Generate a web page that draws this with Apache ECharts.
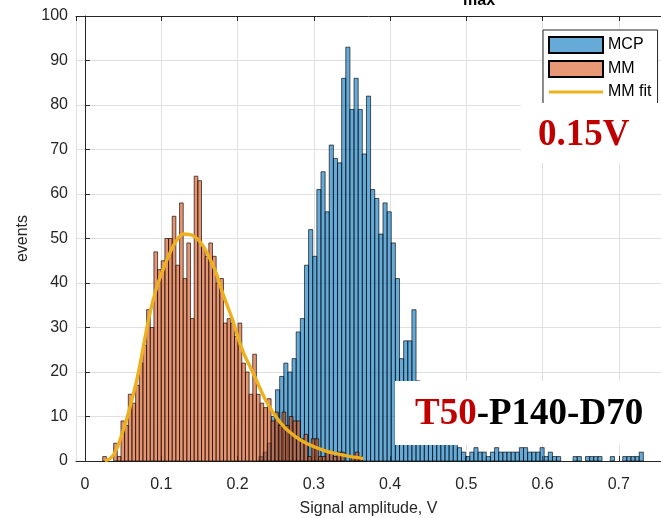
<!DOCTYPE html>
<html lang="en" style="height: 100%">

<head>
  <meta charset="utf-8">
</head>

<body style="height: 100%; margin: 0; background: #fff">
  <div id="container" style="width: 661px; height: 518px"></div>

  <script type="text/javascript" src="https://cdn.jsdelivr.net/npm/echarts@6/dist/echarts.min.js"></script>

  <script type="text/javascript">
    // histogram bins: first left edge, bin width, counts per bin
    var mcpFirstEdge = 0.2282;
    var mcpBinWidth = 0.00542;
    var mcpCounts = [1, 2, 4,
      10, 16, 19, 22, 20, 23, 29, 32, 44, 52, 46, 61, 65, 56, 71, 68, 67,
      86, 93, 79, 86, 79, 69, 82, 61, 59, 51, 58, 56, 49, 41, 23, 27, 27, 34,
      18, 14, 12, 9, 8, 7, 5, 6, 4, 4,
      3, 2, 1, 2, 3, 2, 2, 1, 2, 3, 2, 2, 2, 2, 2, 3, 3, 2, 2, 2,
      3, 1, 2, 1, 1, 0, 0, 0, 1, 1, 0, 1, 1, 1, 1, 0, 0, 1, 0, 0,
      1, 1, 1, 1, 2];

    var mmFirstEdge = 0.0232;
    var mmBinWidth = 0.0048;
    var mmCounts = [1, 0, 0, 4, 1, 9, 8, 15, 13, 17,
      22, 26, 34, 30, 47, 43, 45, 50, 50, 55,
      44, 58, 41, 49, 32, 64, 63, 48, 46, 49,
      46, 40, 41, 31, 32, 31, 28, 31, 22, 20,
      15, 24, 15, 13, 12, 14, 9, 11, 8, 11,
      8, 10, 9, 9, 5, 6, 1, 5, 5, 1,
      1, 2, 2, 1, 2, 2, 0, 0, 1, 2, 1];

    // MM fit curve
    var fitX = [0.026, 0.034, 0.041, 0.048, 0.057, 0.070, 0.083, 0.094, 0.107, 0.118,
      0.129, 0.142, 0.155, 0.171, 0.181, 0.193, 0.203, 0.210, 0.217, 0.223,
      0.236, 0.249, 0.262, 0.276, 0.289, 0.302, 0.315, 0.328, 0.345, 0.365];
    var fitY = [0, 0.7, 2.5, 5.8, 10.8, 19.8, 31.5, 39, 45, 49,
      51, 50.6, 48.3, 42.7, 37.5, 32, 26.5, 23.5, 21, 18.8,
      14, 10.3, 7.5, 5.5, 4.1, 3.1, 2.3, 1.7, 1.1, 0.6];

    // visible x range (the figure is cropped on the right)
    var xMin = -0.0118;
    var xMax = 0.7554;

    function binData(firstEdge, width, counts) {
      var out = [];
      counts.forEach(function (c, i) {
        var left = firstEdge + i * width;
        out.push([left, left + width, c]);
      });
      return out;
    }

    function histRender(fill) {
      return function (params, api) {
        var v = api.value(2);
        if (!v) return null;
        var p0 = api.coord([api.value(0), v]);
        var p1 = api.coord([api.value(1), 0]);
        return {
          type: 'rect',
          shape: { x: p0[0], y: p0[1], width: p1[0] - p0[0], height: p1[1] - p0[1] },
          style: { fill: fill, stroke: 'rgba(0,0,0,0.85)', lineWidth: 0.75 }
        };
      };
    }

    var dom = document.getElementById('container');
    var myChart = echarts.init(dom, null, { renderer: 'canvas' });
    var axisColor = '#262626';
    var font = '"Liberation Sans", Arial, sans-serif';
    var serif = '"Liberation Serif", "Times New Roman", serif';

    var option = {
      animation: false,
      backgroundColor: '#fff',
      textStyle: { fontFamily: font },
      grid: { left: 76, top: 16, right: 0, bottom: 57, outerBoundsMode: 'none', containLabel: false },
      legend: {
        orient: 'vertical',
        left: 543,
        top: 30,
        itemWidth: 54,
        itemHeight: 16,
        itemGap: 6,
        padding: [6, 6, 5, 5],
        borderColor: axisColor,
        borderWidth: 1,
        backgroundColor: '#fff',
        textStyle: { fontSize: 16, color: '#000', fontFamily: font },
        data: [
          { name: 'MCP', icon: 'rect' },
          { name: 'MM', icon: 'rect' },
          { name: 'MM fit', icon: 'path://M0,0H54V3.2H0Z' }
        ]
      },
      xAxis: [{
        type: 'value',
        min: xMin,
        max: xMax,
        splitNumber: 8,
        position: 'bottom',
        name: 'Signal amplitude, V',
        nameLocation: 'middle',
        nameGap: 40,
        nameTextStyle: { fontSize: 16, color: axisColor },
        axisLine: { lineStyle: { color: axisColor, width: 1 } },
        axisTick: { inside: true, length: 5, lineStyle: { color: axisColor } },
        axisLabel: {
          fontSize: 16, color: axisColor, margin: 16, showMinLabel: false, showMaxLabel: false,
          formatter: function (v) { return String(Math.round(v * 10) / 10); }
        },
        splitLine: { show: true, lineStyle: { color: '#e0e0e0' } }
      }, {
        type: 'value',
        min: xMin,
        max: xMax,
        splitNumber: 8,
        position: 'top',
        axisLine: { lineStyle: { color: axisColor, width: 1 } },
        axisTick: { inside: true, length: 5, lineStyle: { color: axisColor } },
        axisLabel: { show: false },
        splitLine: { show: false }
      }],
      yAxis: {
        type: 'value',
        min: 0,
        max: 100,
        interval: 10,
        name: 'events',
        nameLocation: 'middle',
        nameGap: 44,
        nameTextStyle: { fontSize: 16, color: axisColor },
        axisLine: { show: true, lineStyle: { color: axisColor, width: 1 } },
        axisTick: { show: true, inside: true, length: 5, lineStyle: { color: axisColor } },
        axisLabel: { fontSize: 16, color: axisColor, margin: 8 },
        splitLine: { lineStyle: { color: '#e0e0e0' } }
      },
      series: [
        {
          name: 'MCP',
          type: 'custom',
          renderItem: histRender('rgba(0,114,189,0.6)'),
          itemStyle: { color: 'rgba(0,114,189,0.6)', borderColor: '#000', borderWidth: 1 },
          encode: { x: [0, 1], y: 2 },
          data: binData(mcpFirstEdge, mcpBinWidth, mcpCounts),
          z: 2
        },
        {
          name: 'MM',
          type: 'custom',
          renderItem: histRender('rgba(217,83,25,0.62)'),
          itemStyle: { color: 'rgba(217,83,25,0.6)', borderColor: '#000', borderWidth: 1 },
          encode: { x: [0, 1], y: 2 },
          data: binData(mmFirstEdge, mmBinWidth, mmCounts),
          z: 3
        },
        {
          name: 'MM fit',
          type: 'line',
          smooth: 0.3,
          symbol: 'none',
          showSymbol: false,
          lineStyle: { color: '#EDB120', width: 3.4 },
          itemStyle: { color: '#EDB120' },
          data: fitX.map(function (x, i) { return [x, fitY[i]]; }),
          z: 4
        }
      ],
      graphic: [
        {
          type: 'text', z: 100,
          style: { x: 463, y: 9, text: 'max', fill: '#000', font: 'bold 16px ' + font, verticalAlign: 'bottom' }
        },
        {
          type: 'rect', z: 100,
          shape: { x: 521, y: 103, width: 140, height: 60 },
          style: { fill: '#fff' }
        },
        {
          type: 'text', z: 101,
          style: {
            x: 538, y: 135, text: '0.15V', fill: '#C00000',
            font: 'bold 37px ' + serif, verticalAlign: 'middle'
          }
        },
        {
          type: 'rect', z: 100,
          shape: { x: 395, y: 381, width: 266, height: 64 },
          style: { fill: '#fff' }
        },
        {
          type: 'text', z: 101,
          style: {
            x: 415, y: 414, verticalAlign: 'middle',
            text: '{r|T50}{k|-P140-D70}',
            rich: {
              r: { fill: '#C00000', font: 'bold 37px ' + serif },
              k: { fill: '#000', font: 'bold 37px ' + serif }
            }
          }
        }
      ]
    };

    myChart.setOption(option);
    window.addEventListener('resize', myChart.resize);
  </script>
</body>

</html>
